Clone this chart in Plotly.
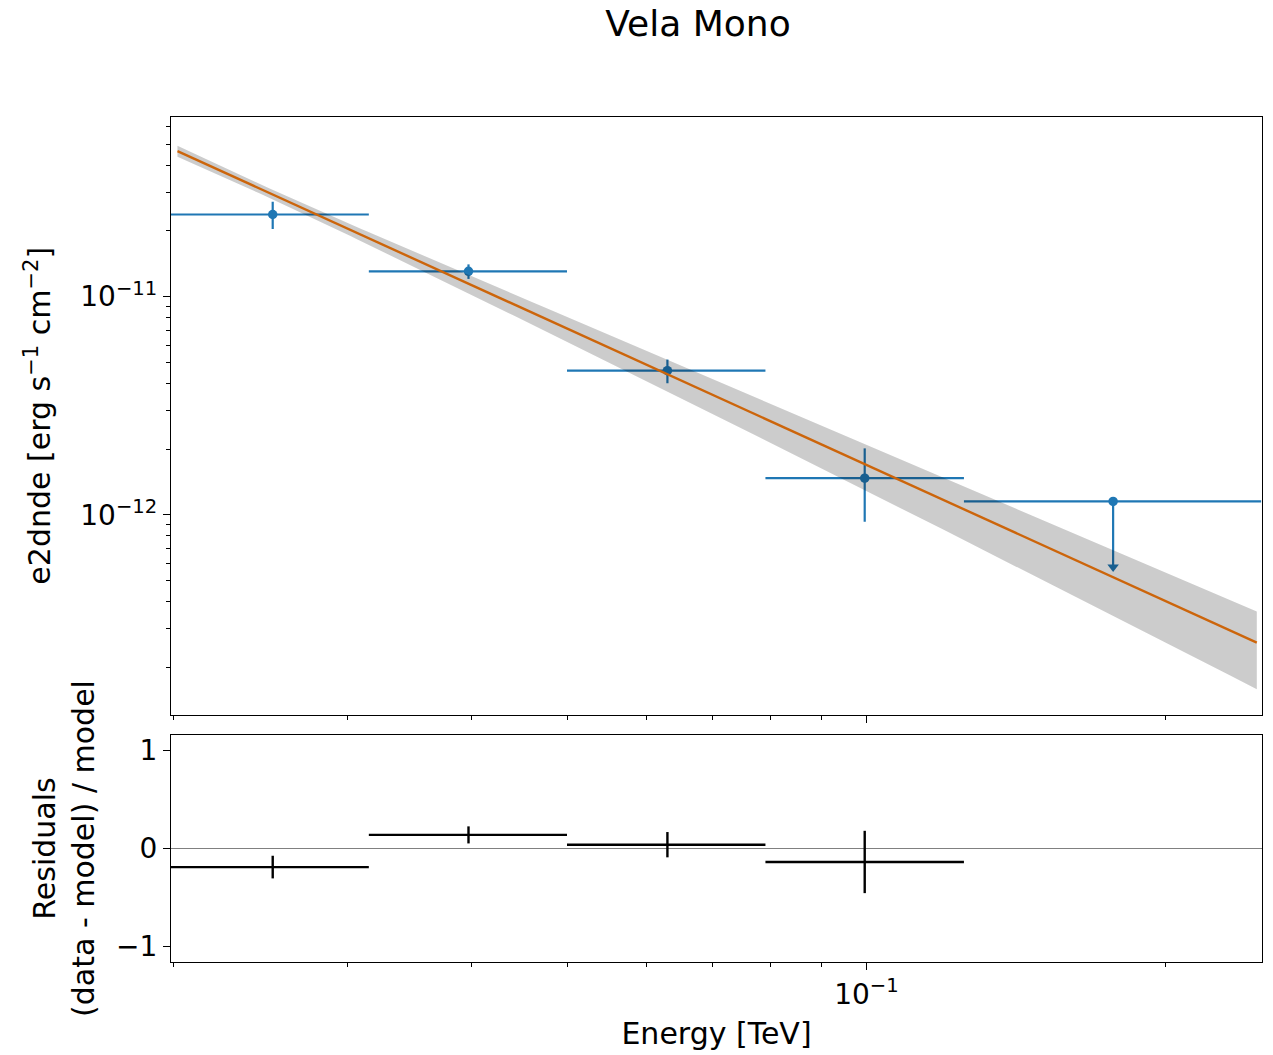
import numpy as np
import plotly.graph_objects as go

# Flux points: energy bins in TeV, e2dnde in erg s^-1 cm^-2
e_min = [0.0199, 0.0315, 0.0499, 0.0791, 0.1254]
e_max = [0.0315, 0.0499, 0.0791, 0.1254, 0.2500]
e_ref = [0.0252, 0.0397, 0.0630, 0.0996, 0.1773]
e2dnde = [2.38e-11, 1.306e-11, 4.58e-12, 1.473e-12]
e2dnde_err = [3.4e-12, 1.0e-12, 5.7e-13, 5.44e-13]
e2dnde_ul = 1.152e-12          # last bin is an upper limit

# Best-fit power-law model
ref_energy = 0.024             # TeV
ref_e2dnde = 3.25e-11          # erg s^-1 cm^-2 at ref_energy
index = 4.07
amplitude_rel_err = 0.05
index_err = 0.165
energy_range = [0.0202, 0.2475]

# Axis ranges and ticks
x_range = [0.0199, 0.2505]
y_range = [1.216e-13, 6.66e-11]
res_range = [-1.16, 1.16]
x_major = [0.1]
x_major_text = ["10<sup>\u22121</sup>"]
x_minor = [0.02, 0.03, 0.04, 0.05, 0.06, 0.07, 0.08, 0.09, 0.2]
y_major = [1e-12, 1e-11]
y_major_text = ["10<sup>\u221212</sup>", "10<sup>\u221211</sup>"]
y_minor = [2e-13, 3e-13, 4e-13, 5e-13, 6e-13, 7e-13, 8e-13, 9e-13,
           2e-12, 3e-12, 4e-12, 5e-12, 6e-12, 7e-12, 8e-12, 9e-12,
           2e-11, 3e-11, 4e-11, 5e-11, 6e-11]
res_ticks = [-1, 0, 1]
res_ticktext = ["\u22121", "0", "1"]

BLUE = "#1f77b4"
ORANGE = "#ff7f0e"
FONT = "DejaVu Sans"
TICK_SIZE = 28
LABEL_SIZE = 30


def model(e):
    e = np.asarray(e, dtype=float)
    return ref_e2dnde * (e / ref_energy) ** (2.0 - index)


def model_err(e):
    e = np.asarray(e, dtype=float)
    rel = np.sqrt(amplitude_rel_err ** 2 + (index_err * np.log(e / ref_energy)) ** 2)
    return model(e) * rel


e_ref_a = np.array(e_ref)
e_lo = e_ref_a - np.array(e_min)
e_hi = np.array(e_max) - e_ref_a

n_pts = len(e2dnde)
model_at_pts = model(e_ref_a[:n_pts])
residuals = (np.array(e2dnde) - model_at_pts) / model_at_pts
residual_err = np.array(e2dnde_err) / model_at_pts

e_grid = np.geomspace(energy_range[0], energy_range[1], 200)
m_grid = model(e_grid)
m_err = model_err(e_grid)

fig = go.Figure()

# flux points
fig.add_trace(go.Scatter(
    x=e_ref[:n_pts], y=e2dnde, mode="markers",
    marker=dict(color=BLUE, size=9.5),
    error_x=dict(type="data", symmetric=False, array=e_hi[:n_pts], arrayminus=e_lo[:n_pts],
                 color=BLUE, thickness=2.2, width=0),
    error_y=dict(type="data", array=e2dnde_err, color=BLUE, thickness=2.2, width=0),
    xaxis="x", yaxis="y", showlegend=False,
))

# upper limit
fig.add_trace(go.Scatter(
    x=[e_ref[-1]], y=[e2dnde_ul], mode="markers",
    marker=dict(color=BLUE, size=9.5),
    error_x=dict(type="data", symmetric=False, array=[e_hi[-1]], arrayminus=[e_lo[-1]],
                 color=BLUE, thickness=2.2, width=0),
    error_y=dict(type="data", symmetric=False, array=[0], arrayminus=[0.5 * e2dnde_ul],
                 color=BLUE, thickness=2.2, width=0),
    xaxis="x", yaxis="y", showlegend=False,
))
fig.add_trace(go.Scatter(
    x=[e_ref[-1]], y=[0.5 * e2dnde_ul], mode="markers",
    marker=dict(color=BLUE, size=10, symbol="triangle-down"),
    xaxis="x", yaxis="y", showlegend=False,
))

# model line
fig.add_trace(go.Scatter(
    x=e_grid, y=m_grid, mode="lines", line=dict(color=ORANGE, width=2.4),
    xaxis="x", yaxis="y", showlegend=False,
))

# model error band (drawn on top, translucent)
fig.add_trace(go.Scatter(
    x=e_grid, y=m_grid - m_err, mode="lines", line=dict(width=0, color="rgba(0,0,0,0)"),
    xaxis="x", yaxis="y", showlegend=False,
))
fig.add_trace(go.Scatter(
    x=e_grid, y=m_grid + m_err, mode="lines", line=dict(width=0, color="rgba(0,0,0,0)"),
    fill="tonexty", fillcolor="rgba(0,0,0,0.2)",
    xaxis="x", yaxis="y", showlegend=False,
))

# residuals
fig.add_trace(go.Scatter(
    x=e_ref[:n_pts], y=residuals, mode="markers",
    marker=dict(color="black", size=1),
    error_x=dict(type="data", symmetric=False, array=e_hi[:n_pts], arrayminus=e_lo[:n_pts],
                 color="black", thickness=2.4, width=0),
    error_y=dict(type="data", array=residual_err, color="black", thickness=2.4, width=0),
    xaxis="x2", yaxis="y2", showlegend=False,
))

W, H = 1273, 1055
ml, mr, mt, mb = 171, 11, 117, 93
plot_h = H - mt - mb
top_dom = [(962 - 714.5) / plot_h, 1.0]
bot_dom = [0.0, (962 - 735) / plot_h]

axis_common = dict(
    showline=True, linecolor="black", linewidth=1.3, mirror=True,
    ticks="outside", ticklen=7, tickwidth=1.3, tickcolor="black",
    showgrid=False, zeroline=False,
    tickfont=dict(family=FONT, size=TICK_SIZE, color="black"),
)
log_x = dict(
    type="log", range=[np.log10(x_range[0]), np.log10(x_range[1])],
    tickmode="array", tickvals=x_major,
    minor=dict(tickmode="array", tickvals=x_minor, ticks="outside", ticklen=4,
               tickwidth=1.1, tickcolor="black", showgrid=False),
)

fig.update_layout(
    width=W, height=H,
    margin=dict(l=ml, r=mr, t=mt, b=mb, autoexpand=False),
    paper_bgcolor="white", plot_bgcolor="white",
    font=dict(family=FONT, color="black"),
    title=dict(text="Vela Mono", x=698 / W, xref="container", xanchor="center",
               y=1 - 23 / H, yref="container", yanchor="middle",
               font=dict(family=FONT, size=36, color="black")),
    xaxis=dict(**axis_common, **log_x, domain=[0, 1], anchor="y",
               showticklabels=False, matches="x2"),
    yaxis=dict(**axis_common, domain=top_dom, anchor="x",
               type="log", range=[np.log10(y_range[0]), np.log10(y_range[1])],
               tickmode="array", tickvals=y_major, ticktext=y_major_text,
               minor=dict(tickmode="array", tickvals=y_minor, ticks="outside", ticklen=4,
                          tickwidth=1.1, tickcolor="black", showgrid=False),
               title=dict(text="e2dnde [erg s<sup>\u22121</sup> cm<sup>\u22122</sup>]",
                          font=dict(family=FONT, size=LABEL_SIZE), standoff=20)),
    xaxis2=dict(**axis_common, **log_x, domain=[0, 1], anchor="y2",
                ticktext=x_major_text,
                title=dict(text="Energy [TeV]", font=dict(family=FONT, size=LABEL_SIZE),
                           standoff=13)),
    yaxis2=dict(**{k: v for k, v in axis_common.items() if k != "zeroline"},
                domain=bot_dom, anchor="x2",
                range=res_range, tickmode="array", tickvals=res_ticks, ticktext=res_ticktext,
                zeroline=True, zerolinecolor="#808080", zerolinewidth=1,
                title=dict(text="Residuals<br>(data - model) / model",
                           font=dict(family=FONT, size=LABEL_SIZE), standoff=12)),
)

fig.write_html("out.html")
